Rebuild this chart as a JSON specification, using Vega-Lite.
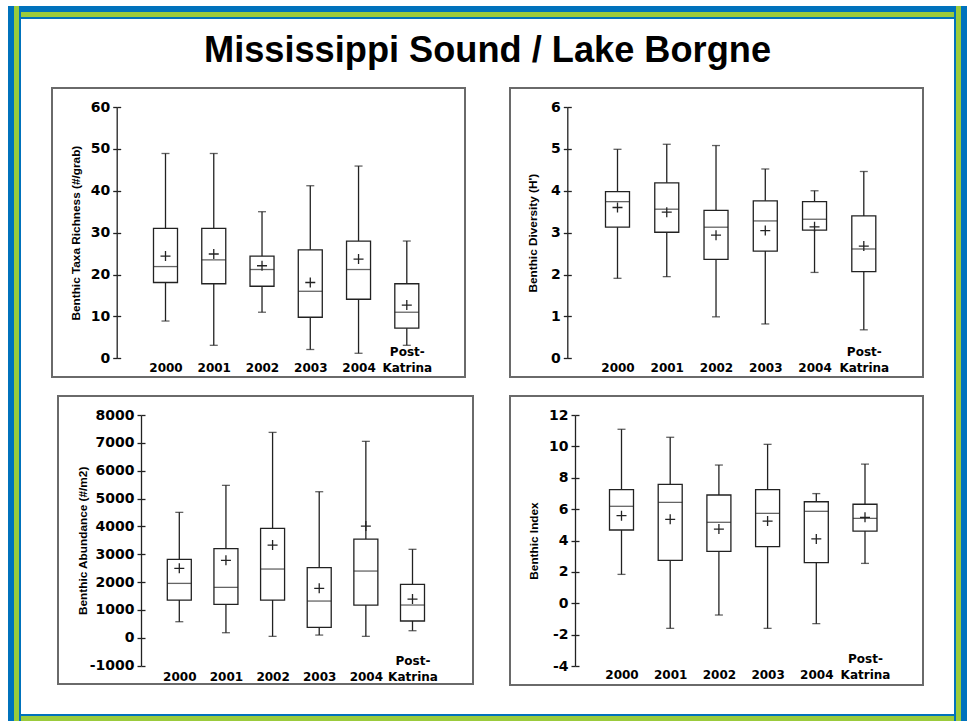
{
  "$schema": "https://vega.github.io/schema/vega-lite/v6.json",
  "background": "white",
  "padding": {"left": 8, "top": 6, "right": 0, "bottom": 0},
  "config": {
    "font": "Liberation Sans",
    "view": {"stroke": null},
    "axis": {"grid": false, "labelColor": "black", "titleColor": "black", "labelFontWeight": "bold", "titleFontWeight": "bold", "domainColor": "#222", "tickColor": "#222", "domainWidth": 1.3, "tickWidth": 1.3, "labelFlush": false, "labelOverlap": false, "labelBound": false}
  },
  "datasets": {
    "ttl": [{"t": "Mississippi Sound / Lake Borgne"}],
    "rich": [
      {"year": "2000", "min": 8.9, "q1": 18.1, "med": 21.9, "q3": 31.0, "max": 48.9, "mean": 24.4},
      {"year": "2001", "min": 3.1, "q1": 17.8, "med": 23.5, "q3": 31.0, "max": 48.9, "mean": 24.9},
      {"year": "2002", "min": 11.0, "q1": 17.2, "med": 21.2, "q3": 24.4, "max": 35.0, "mean": 22.1},
      {"year": "2003", "min": 2.1, "q1": 9.8, "med": 16.0, "q3": 25.9, "max": 41.2, "mean": 18.1},
      {"year": "2004", "min": 1.2, "q1": 14.1, "med": 21.2, "q3": 28.0, "max": 45.9, "mean": 23.7},
      {"year": "Post-Katrina", "min": 3.1, "q1": 7.2, "med": 11.0, "q3": 17.8, "max": 28.0, "mean": 12.7}
    ],
    "div": [
      {"year": "2000", "min": 1.91, "q1": 3.13, "med": 3.74, "q3": 3.98, "max": 4.99, "mean": 3.60},
      {"year": "2001", "min": 1.95, "q1": 3.01, "med": 3.56, "q3": 4.19, "max": 5.11, "mean": 3.49},
      {"year": "2002", "min": 0.99, "q1": 2.36, "med": 3.13, "q3": 3.53, "max": 5.08, "mean": 2.94},
      {"year": "2003", "min": 0.82, "q1": 2.56, "med": 3.28, "q3": 3.76, "max": 4.52, "mean": 3.05},
      {"year": "2004", "min": 2.05, "q1": 3.06, "med": 3.32, "q3": 3.74, "max": 4.00, "mean": 3.14},
      {"year": "Post-Katrina", "min": 0.68, "q1": 2.07, "med": 2.61, "q3": 3.40, "max": 4.46, "mean": 2.68}
    ],
    "abund": [
      {"year": "2000", "min": 579, "q1": 1357, "med": 1955, "q3": 2817, "max": 4505, "mean": 2494},
      {"year": "2001", "min": 184, "q1": 1201, "med": 1812, "q3": 3201, "max": 5474, "mean": 2782},
      {"year": "2002", "min": 53, "q1": 1357, "med": 2470, "q3": 3931, "max": 7376, "mean": 3332},
      {"year": "2003", "min": 100, "q1": 376, "med": 1321, "q3": 2518, "max": 5246, "mean": 1776},
      {"year": "2004", "min": 53, "q1": 1178, "med": 2398, "q3": 3547, "max": 7054, "mean": 4014},
      {"year": "Post-Katrina", "min": 256, "q1": 604, "med": 1178, "q3": 1920, "max": 3178, "mean": 1393}
    ],
    "idx": [
      {"year": "2000", "min": 1.84, "q1": 4.67, "med": 6.18, "q3": 7.24, "max": 11.09, "mean": 5.58},
      {"year": "2001", "min": -1.60, "q1": 2.73, "med": 6.43, "q3": 7.58, "max": 10.58, "mean": 5.35},
      {"year": "2002", "min": -0.75, "q1": 3.31, "med": 5.16, "q3": 6.90, "max": 8.81, "mean": 4.73},
      {"year": "2003", "min": -1.60, "q1": 3.61, "med": 5.73, "q3": 7.24, "max": 10.13, "mean": 5.24},
      {"year": "2004", "min": -1.30, "q1": 2.59, "med": 5.86, "q3": 6.47, "max": 6.99, "mean": 4.10},
      {"year": "Post-Katrina", "min": 2.54, "q1": 4.60, "med": 5.41, "q3": 6.31, "max": 8.87, "mean": 5.48}
    ]
  },
  "spacing": 0,
  "hconcat": [
    {"spacing": 0, "hconcat": [
      {"width": 6, "height": 715, "data": {"values": []}, "mark": "rect", "encoding": {}, "view": {"fill": "#0072BC", "stroke": null}},
      {"width": 5, "height": 715, "data": {"values": []}, "mark": "rect", "encoding": {}, "view": {"fill": "#9BCB3B", "stroke": null}},
      {"width": 2, "height": 715, "data": {"values": []}, "mark": "rect", "encoding": {}, "view": {"fill": "#0072BC", "stroke": null}}
    ]},
    {"spacing": 0, "vconcat": [
      {"width": 933, "height": 6, "data": {"values": []}, "mark": "rect", "encoding": {}, "view": {"fill": "#0072BC", "stroke": null}},
      {"width": 933, "height": 5, "data": {"values": []}, "mark": "rect", "encoding": {}, "view": {"fill": "#9BCB3B", "stroke": null}},
      {"width": 933, "height": 2, "data": {"values": []}, "mark": "rect", "encoding": {}, "view": {"fill": "#0072BC", "stroke": null}},
      {"width": 933, "height": 68, "data": {"name": "ttl"}, "view": {"stroke": null},
       "mark": {"type": "text", "fontSize": 36.2, "fontWeight": "bold", "color": "black", "baseline": "alphabetic", "dy": 9},
       "encoding": {"text": {"field": "t", "type": "nominal"}}},
      {"spacing": 17, "vconcat": [
        {"spacing": 0, "hconcat": [
          {"width": 30, "height": 1, "data": {"values": []}, "mark": "rect", "encoding": {}, "view": {"stroke": null}},
          {"spacing": 43, "hconcat": [
            {"width": 413, "height": 289, "view": {"stroke": "#6a6a6a", "strokeWidth": 2, "fill": "white"},
             "data": {"name": "rich"},
             "resolve": {"scale": {"y": "shared"}, "axis": {"y": "independent"}},
             "encoding": {"x": {"field": "year", "type": "nominal", "sort": null,
               "scale": {"type": "point", "padding": 0, "range": [113.5, 354.8]},
               "axis": {"title": null, "orient": "bottom", "offset": -21.3, "domain": false, "ticks": false, "labelPadding": 0, "labelAngle": 0, "labelBaseline": "alphabetic", "labelFont": "DejaVu Sans", "labelFontSize": 12, "labelLineHeight": 16, "labelExpr": "datum.value == 'Post-Katrina' ? ['Post-', 'Katrina'] : ['', datum.label]"}}},
             "layer": [
               {"mark": {"type": "rule", "color": "#222", "strokeWidth": 1.3},
                "encoding": {"y": {"field": "min", "type": "quantitative", "title": "Benthic Taxa Richness (#/grab)",
                  "scale": {"domain": [0, 60], "range": [270.3, 19], "nice": false, "zero": false},
                  "axis": {"orient": "left", "offset": -64.7, "values": [0, 10, 20, 30, 40, 50, 60], "tickCount": 30, "labelExpr": "(datum.value < 0 ? '-' : '') + abs(datum.value)", "labelOverlap": false, "tickSize": 4, "labelPadding": 3, "labelFont": "DejaVu Sans", "labelFontSize": 14, "titleX": -41.7, "titleBaseline": "middle", "titleFontSize": 11.8}},
                  "y2": {"field": "max"}}},
               {"mark": {"type": "tick", "size": 8, "thickness": 1.3, "color": "#222"},
                "encoding": {"y": {"field": "min", "type": "quantitative", "scale": {"domain": [0, 60], "range": [270.3, 19], "nice": false, "zero": false},
                  "axis": {"orient": "right", "offset": -348.3, "values": [0, 10, 20, 30, 40, 50, 60], "tickCount": 30, "labels": false, "domain": false, "tickSize": 4, "title": null}}}},
               {"mark": {"type": "tick", "size": 8, "thickness": 1.3, "color": "#222"},
                "encoding": {"y": {"field": "max", "type": "quantitative", "axis": null, "scale": {"domain": [0, 60], "range": [270.3, 19], "nice": false, "zero": false}}}},
               {"mark": {"type": "bar", "size": 24, "fill": "white", "stroke": "#222", "strokeWidth": 1.3},
                "encoding": {"y": {"field": "q1", "type": "quantitative", "axis": null, "scale": {"domain": [0, 60], "range": [270.3, 19], "nice": false, "zero": false}}, "y2": {"field": "q3"}}},
               {"mark": {"type": "tick", "size": 24, "thickness": 1.3, "color": "#222"},
                "encoding": {"y": {"field": "med", "type": "quantitative", "axis": null, "scale": {"domain": [0, 60], "range": [270.3, 19], "nice": false, "zero": false}}}},
               {"mark": {"type": "point", "shape": "M-1,0H1M0,-1V1", "size": 100, "filled": false, "color": "#222", "strokeWidth": 1.3, "opacity": 1},
                "encoding": {"y": {"field": "mean", "type": "quantitative", "axis": null, "scale": {"domain": [0, 60], "range": [270.3, 19], "nice": false, "zero": false}}}}
             ]},
            {"width": 413, "height": 289, "view": {"stroke": "#6a6a6a", "strokeWidth": 2, "fill": "white"},
             "data": {"name": "div"},
             "resolve": {"scale": {"y": "shared"}, "axis": {"y": "independent"}},
             "encoding": {"x": {"field": "year", "type": "nominal", "sort": null,
               "scale": {"type": "point", "padding": 0, "range": [107.5, 353.8]},
               "axis": {"title": null, "orient": "bottom", "offset": -21.3, "domain": false, "ticks": false, "labelPadding": 0, "labelAngle": 0, "labelBaseline": "alphabetic", "labelFont": "DejaVu Sans", "labelFontSize": 12, "labelLineHeight": 16, "labelExpr": "datum.value == 'Post-Katrina' ? ['Post-', 'Katrina'] : ['', datum.label]"}}},
             "layer": [
               {"mark": {"type": "rule", "color": "#222", "strokeWidth": 1.3},
                "encoding": {"y": {"field": "min", "type": "quantitative", "title": "Benthic Diversity (H')",
                  "scale": {"domain": [0, 6], "range": [270.3, 19], "nice": false, "zero": false},
                  "axis": {"orient": "left", "offset": -57.3, "values": [0, 1, 2, 3, 4, 5, 6], "tickCount": 30, "labelExpr": "(datum.value < 0 ? '-' : '') + abs(datum.value)", "labelOverlap": false, "tickSize": 4, "labelPadding": 3, "labelFont": "DejaVu Sans", "labelFontSize": 14, "titleX": -35, "titleBaseline": "middle", "titleFontSize": 11.8}},
                  "y2": {"field": "max"}}},
               {"mark": {"type": "tick", "size": 8, "thickness": 1.3, "color": "#222"},
                "encoding": {"y": {"field": "min", "type": "quantitative", "scale": {"domain": [0, 6], "range": [270.3, 19], "nice": false, "zero": false},
                  "axis": {"orient": "right", "offset": -355.7, "values": [0, 1, 2, 3, 4, 5, 6], "tickCount": 30, "labels": false, "domain": false, "tickSize": 4, "title": null}}}},
               {"mark": {"type": "tick", "size": 8, "thickness": 1.3, "color": "#222"},
                "encoding": {"y": {"field": "max", "type": "quantitative", "axis": null, "scale": {"domain": [0, 6], "range": [270.3, 19], "nice": false, "zero": false}}}},
               {"mark": {"type": "bar", "size": 24, "fill": "white", "stroke": "#222", "strokeWidth": 1.3},
                "encoding": {"y": {"field": "q1", "type": "quantitative", "axis": null, "scale": {"domain": [0, 6], "range": [270.3, 19], "nice": false, "zero": false}}, "y2": {"field": "q3"}}},
               {"mark": {"type": "tick", "size": 24, "thickness": 1.3, "color": "#222"},
                "encoding": {"y": {"field": "med", "type": "quantitative", "axis": null, "scale": {"domain": [0, 6], "range": [270.3, 19], "nice": false, "zero": false}}}},
               {"mark": {"type": "point", "shape": "M-1,0H1M0,-1V1", "size": 100, "filled": false, "color": "#222", "strokeWidth": 1.3, "opacity": 1},
                "encoding": {"y": {"field": "mean", "type": "quantitative", "axis": null, "scale": {"domain": [0, 6], "range": [270.3, 19], "nice": false, "zero": false}}}}
             ]}
          ]}
        ]},
        {"spacing": 0, "hconcat": [
          {"width": 36, "height": 1, "data": {"values": []}, "mark": "rect", "encoding": {}, "view": {"stroke": null}},
          {"spacing": 35, "hconcat": [
            {"width": 415, "height": 288, "view": {"stroke": "#6a6a6a", "strokeWidth": 2, "fill": "white"},
             "data": {"name": "abund"},
             "resolve": {"scale": {"y": "shared"}, "axis": {"y": "independent"}},
             "encoding": {"x": {"field": "year", "type": "nominal", "sort": null,
               "scale": {"type": "point", "padding": 0, "range": [121.3, 354.5]},
               "axis": {"title": null, "orient": "bottom", "offset": -20, "domain": false, "ticks": false, "labelPadding": 0, "labelAngle": 0, "labelBaseline": "alphabetic", "labelFont": "DejaVu Sans", "labelFontSize": 12, "labelLineHeight": 16, "labelExpr": "datum.value == 'Post-Katrina' ? ['Post-', 'Katrina'] : ['', datum.label]"}}},
             "layer": [
               {"mark": {"type": "rule", "color": "#222", "strokeWidth": 1.3},
                "encoding": {"y": {"field": "min", "type": "quantitative", "title": "Benthic Abundance (#/m2)",
                  "scale": {"domain": [-1000, 8000], "range": [269.7, 19], "nice": false, "zero": false},
                  "axis": {"orient": "left", "offset": -83, "values": [-1000, 0, 1000, 2000, 3000, 4000, 5000, 6000, 7000, 8000], "tickCount": 30, "labelExpr": "(datum.value < 0 ? '-' : '') + abs(datum.value)", "labelOverlap": false, "tickSize": 4, "labelPadding": 3, "labelFont": "DejaVu Sans", "labelFontSize": 14, "titleX": -58.7, "titleBaseline": "middle", "titleFontSize": 11.8}},
                  "y2": {"field": "max"}}},
               {"mark": {"type": "tick", "size": 8, "thickness": 1.3, "color": "#222"},
                "encoding": {"y": {"field": "min", "type": "quantitative", "scale": {"domain": [-1000, 8000], "range": [269.7, 19], "nice": false, "zero": false},
                  "axis": {"orient": "right", "offset": -332, "values": [-1000, 0, 1000, 2000, 3000, 4000, 5000, 6000, 7000, 8000], "tickCount": 30, "labels": false, "domain": false, "tickSize": 4, "title": null}}}},
               {"mark": {"type": "tick", "size": 8, "thickness": 1.3, "color": "#222"},
                "encoding": {"y": {"field": "max", "type": "quantitative", "axis": null, "scale": {"domain": [-1000, 8000], "range": [269.7, 19], "nice": false, "zero": false}}}},
               {"mark": {"type": "bar", "size": 24, "fill": "white", "stroke": "#222", "strokeWidth": 1.3},
                "encoding": {"y": {"field": "q1", "type": "quantitative", "axis": null, "scale": {"domain": [-1000, 8000], "range": [269.7, 19], "nice": false, "zero": false}}, "y2": {"field": "q3"}}},
               {"mark": {"type": "tick", "size": 24, "thickness": 1.3, "color": "#222"},
                "encoding": {"y": {"field": "med", "type": "quantitative", "axis": null, "scale": {"domain": [-1000, 8000], "range": [269.7, 19], "nice": false, "zero": false}}}},
               {"mark": {"type": "point", "shape": "M-1,0H1M0,-1V1", "size": 100, "filled": false, "color": "#222", "strokeWidth": 1.3, "opacity": 1},
                "encoding": {"y": {"field": "mean", "type": "quantitative", "axis": null, "scale": {"domain": [-1000, 8000], "range": [269.7, 19], "nice": false, "zero": false}}}}
             ]},
            {"width": 413, "height": 289, "view": {"stroke": "#6a6a6a", "strokeWidth": 2, "fill": "white"},
             "data": {"name": "idx"},
             "resolve": {"scale": {"y": "shared"}, "axis": {"y": "independent"}},
             "encoding": {"x": {"field": "year", "type": "nominal", "sort": null,
               "scale": {"type": "point", "padding": 0, "range": [111.5, 355]},
               "axis": {"title": null, "orient": "bottom", "offset": -22.7, "domain": false, "ticks": false, "labelPadding": 0, "labelAngle": 0, "labelBaseline": "alphabetic", "labelFont": "DejaVu Sans", "labelFontSize": 12, "labelLineHeight": 16, "labelExpr": "datum.value == 'Post-Katrina' ? ['Post-', 'Katrina'] : ['', datum.label]"}}},
             "layer": [
               {"mark": {"type": "rule", "color": "#222", "strokeWidth": 1.3},
                "encoding": {"y": {"field": "min", "type": "quantitative", "title": "Benthic Index",
                  "scale": {"domain": [-4, 12], "range": [270, 19], "nice": false, "zero": false},
                  "axis": {"orient": "left", "offset": -65, "values": [-4, -2, 0, 2, 4, 6, 8, 10, 12], "tickCount": 30, "labelExpr": "(datum.value < 0 ? '-' : '') + abs(datum.value)", "labelOverlap": false, "tickSize": 4, "labelPadding": 3, "labelFont": "DejaVu Sans", "labelFontSize": 14, "titleX": -41.7, "titleBaseline": "middle", "titleFontSize": 11.8}},
                  "y2": {"field": "max"}}},
               {"mark": {"type": "tick", "size": 8, "thickness": 1.3, "color": "#222"},
                "encoding": {"y": {"field": "min", "type": "quantitative", "scale": {"domain": [-4, 12], "range": [270, 19], "nice": false, "zero": false},
                  "axis": {"orient": "right", "offset": -348, "values": [-4, -2, 0, 2, 4, 6, 8, 10, 12], "tickCount": 30, "labels": false, "domain": false, "tickSize": 4, "title": null}}}},
               {"mark": {"type": "tick", "size": 8, "thickness": 1.3, "color": "#222"},
                "encoding": {"y": {"field": "max", "type": "quantitative", "axis": null, "scale": {"domain": [-4, 12], "range": [270, 19], "nice": false, "zero": false}}}},
               {"mark": {"type": "bar", "size": 24, "fill": "white", "stroke": "#222", "strokeWidth": 1.3},
                "encoding": {"y": {"field": "q1", "type": "quantitative", "axis": null, "scale": {"domain": [-4, 12], "range": [270, 19], "nice": false, "zero": false}}, "y2": {"field": "q3"}}},
               {"mark": {"type": "tick", "size": 24, "thickness": 1.3, "color": "#222"},
                "encoding": {"y": {"field": "med", "type": "quantitative", "axis": null, "scale": {"domain": [-4, 12], "range": [270, 19], "nice": false, "zero": false}}}},
               {"mark": {"type": "point", "shape": "M-1,0H1M0,-1V1", "size": 100, "filled": false, "color": "#222", "strokeWidth": 1.3, "opacity": 1},
                "encoding": {"y": {"field": "mean", "type": "quantitative", "axis": null, "scale": {"domain": [-4, 12], "range": [270, 19], "nice": false, "zero": false}}}}
             ]}
          ]}
        ]}
      ]},
      {"width": 1, "height": 28, "data": {"values": []}, "mark": "rect", "encoding": {}, "view": {"stroke": null}},
      {"width": 933, "height": 2, "data": {"values": []}, "mark": "rect", "encoding": {}, "view": {"fill": "#0072BC", "stroke": null}},
      {"width": 933, "height": 5, "data": {"values": []}, "mark": "rect", "encoding": {}, "view": {"fill": "#9BCB3B", "stroke": null}}
    ]},
    {"spacing": 0, "hconcat": [
      {"width": 2, "height": 715, "data": {"values": []}, "mark": "rect", "encoding": {}, "view": {"fill": "#0072BC", "stroke": null}},
      {"width": 5, "height": 715, "data": {"values": []}, "mark": "rect", "encoding": {}, "view": {"fill": "#9BCB3B", "stroke": null}},
      {"width": 6, "height": 715, "data": {"values": []}, "mark": "rect", "encoding": {}, "view": {"fill": "#0072BC", "stroke": null}}
    ]}
  ]
}
